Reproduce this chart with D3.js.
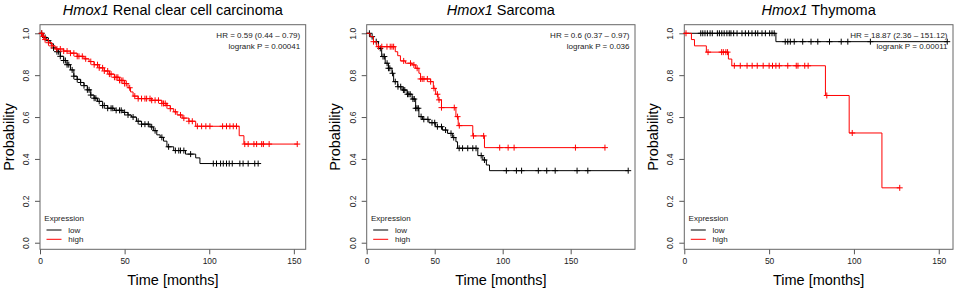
<!DOCTYPE html>
<html>
<head>
<meta charset="utf-8">
<script src="https://cdn.jsdelivr.net/npm/d3@7"></script>
<style>
  body { margin: 0; background: #fff; }
  svg text { font-family: "Liberation Sans", Arial, sans-serif; }
</style>
</head>
<body>
<div id="chart"></div>
<script>
// ---- data ----
// Renal clear cell carcinoma
var rccLowT  = [0, 2, 4, 6, 8, 10, 12, 14, 16, 18, 20, 22, 24, 26, 28, 30, 32, 34, 37, 40, 44, 49, 52, 54, 57, 60, 65, 67, 69, 71, 73, 75, 79, 86, 92, 94.5];
var rccLowS  = [1, 0.98, 0.965, 0.95, 0.93, 0.912, 0.89, 0.87, 0.85, 0.825, 0.795, 0.78, 0.765, 0.75, 0.73, 0.705, 0.69, 0.675, 0.655, 0.642, 0.632, 0.622, 0.61, 0.6, 0.58, 0.566, 0.553, 0.535, 0.515, 0.503, 0.485, 0.458, 0.44, 0.423, 0.405, 0.378];
var rccLowCens = [1, 3, 5, 8, 10, 11, 12, 14, 15, 16, 17, 19, 20, 22, 24, 26, 28, 29, 30, 32, 33, 35, 37, 38, 40, 42, 43, 45, 47, 48, 50, 52, 55, 58, 60, 62, 64, 66, 68, 72, 76, 80, 82, 83, 85, 89,
                  102.4, 104.3, 106.7, 108.3, 110.2, 111.8, 113.6, 118.1, 120, 123, 126.9, 128.9];
var rccHighT = [0, 1.5, 3, 5, 7, 9, 14, 18, 22, 26, 29, 32, 35, 38, 41, 44, 47, 50, 52, 53.5, 55, 58, 66, 72, 75, 77, 79, 81, 84, 88, 92, 117.7, 120.5];
var rccHighS = [1, 0.985, 0.97, 0.955, 0.94, 0.925, 0.915, 0.905, 0.89, 0.878, 0.865, 0.85, 0.835, 0.82, 0.805, 0.79, 0.775, 0.76, 0.74, 0.72, 0.70, 0.688, 0.68, 0.665, 0.655, 0.64, 0.625, 0.61, 0.595, 0.58, 0.556, 0.511, 0.471];
var rccHighCens = [1, 2, 3, 5, 7, 10, 12, 14, 16, 18, 20, 22, 23, 25, 27, 30, 32, 34, 35, 37, 38, 40, 41, 42, 44, 45, 46, 47, 48, 49, 50, 51, 53, 56, 58, 60, 62, 63, 65, 66, 68, 70, 72, 73, 74, 75, 77, 80, 83, 85, 88, 90, 93,
                   95.5, 98, 100.4, 107.9, 110.2, 112.2, 114.2, 116.1, 121, 123, 126.4, 128, 131, 132, 135.4, 152];

// Sarcoma
var sarcLowT = [0, 2.5, 5, 8.7, 11, 13.6, 16, 18.6, 19.8, 22.8, 26, 29.7, 33.4, 36, 38.4, 41, 45.8, 50.7, 55.7, 59.4, 63, 65.6, 66.8, 81.7, 85.4, 88, 90.3];
var sarcLowS = [1, 0.984, 0.96, 0.928, 0.889, 0.857, 0.833, 0.809, 0.769, 0.745, 0.729, 0.709, 0.686, 0.642, 0.602, 0.589, 0.573, 0.554, 0.538, 0.522, 0.502, 0.482, 0.451, 0.416, 0.395, 0.371, 0.344];
var sarcLowCens = [2, 4, 7, 10, 12, 13, 15, 16, 17, 19, 21, 23, 25, 27, 28, 30, 31, 32, 34, 35, 36, 37, 38, 40, 42, 45, 48, 50, 52, 55, 58, 62, 64,
                   68, 70.5, 74.3, 78, 80.4, 84.2, 86.6, 102.7, 110.1, 113.9, 126.2, 132.4, 138.6, 154.7, 162.6, 192.3];
var sarcHighT = [0, 2.5, 5, 7.4, 21, 22.8, 24.8, 28.5, 33.4, 36, 38.4, 39.6, 47, 49, 50.7, 52.5, 55, 65.6, 67.3, 78, 86.6];
var sarcHighS = [1, 0.984, 0.96, 0.936, 0.912, 0.893, 0.868, 0.857, 0.849, 0.833, 0.809, 0.782, 0.769, 0.737, 0.709, 0.682, 0.645, 0.602, 0.559, 0.51, 0.454];
var sarcHighCens = [5, 8.7, 11.1, 14.9, 17.3, 18.6, 19.8, 27.2, 32.2, 34.7, 37.1, 39.6, 40.8, 42.1, 44.6, 47, 49.5, 52, 53.2, 55, 64.4, 66.8, 68.1, 78.5, 86, 97.8, 104, 108.4, 153.5, 175.2];

// Thymoma
var thymLowT = [0, 54];
var thymLowS = [1, 0.96];
var thymLowCens = [9.7, 10.9, 12.2, 13.6, 15.2, 16.5, 19.5, 20.7, 22.1, 23.5, 25.1, 26.5, 27.5, 29.1, 31.1, 34, 36, 37.9, 39.9, 41.9, 43.3, 45.8, 47.8, 50.3, 51.7, 53,
                   59.5, 61, 62.5, 64.8, 69.8, 74.7, 78.7, 85.6, 92.5, 96.4, 109.7, 155];
var thymHighT = [0, 4.2, 6, 13, 26, 28, 83.2, 97.2, 116.5];
var thymHighS = [1, 0.97, 0.94, 0.91, 0.877, 0.845, 0.703, 0.524, 0.262];
var thymHighCens = [1, 14, 22, 23, 24.5, 25.5, 29.5, 33, 37, 40, 43, 46.5, 50, 52, 54, 56, 61, 66, 67, 71, 73, 84, 99, 127];

var xTicks = [0, 50, 100, 150];
var yTicks = [0, 0.2, 0.4, 0.6, 0.8, 1.0];
var legendLabels = ["low", "high"];
var colors = ["#000000", "#ff0000"];

var W = 957, H = 292;

var svg = d3.select("#chart").append("svg")
  .attr("width", W)
  .attr("height", H);

var panels = [
  {gene: "Hmox1", name: " Renal clear cell carcinoma", hr: "HR = 0.59 (0.44 \u2013 0.79)", p: "logrank P = 0.00041",
   left: 40, right: 305.7, xMax: 157,
   low: [rccLowT, rccLowS, rccLowCens], high: [rccHighT, rccHighS, rccHighCens]},
  {gene: "Hmox1", name: " Sarcoma", hr: "HR = 0.6 (0.37 \u2013 0.97)", p: "logrank P = 0.036",
   left: 366.7, right: 635, xMax: 197.3,
   low: [sarcLowT, sarcLowS, sarcLowCens], high: [sarcHighT, sarcHighS, sarcHighCens]},
  {gene: "Hmox1", name: " Thymoma", hr: "HR = 18.87 (2.36 \u2013 151.12)", p: "logrank P = 0.00011",
   left: 684.3, right: 953, xMax: 158.4,
   low: [thymLowT, thymLowS, thymLowCens], high: [thymHighT, thymHighS, thymHighCens]}
];

panels.forEach(function(p) { kmPlot(p); });

function kmPlot(p) {
  var top = 24.7, bottom = 249.3;

  var x = d3.scaleLinear().domain([0, p.xMax]).range([p.left, p.right]);
  var y = d3.scaleLinear().domain([-0.0315, 1.041]).range([bottom, top]);

  var g = svg.append("g");

  // title
  var title = g.append("text")
    .attr("x", (p.left + p.right) / 2)
    .attr("y", 15)
    .attr("text-anchor", "middle")
    .style("font-size", "14.5px")
    .style("fill", "#000");
  title.append("tspan").style("font-style", "italic").text(p.gene);
  title.append("tspan").text(p.name);

  // axes
  var xAxis = d3.axisBottom(x).tickValues(xTicks).tickSize(5).tickSizeOuter(0).tickPadding(4);
  var gx = g.append("g")
    .attr("transform", "translate(0," + bottom + ")")
    .call(xAxis);
  gx.select(".domain").remove();
  gx.selectAll("line").attr("stroke", "#555");
  gx.selectAll("text").style("font-size", "8.5px").style("fill", "#222");

  var yAxis = d3.axisLeft(y).tickValues(yTicks).tickSize(5).tickFormat(d3.format(".1f"));
  var gy = g.append("g")
    .attr("transform", "translate(" + p.left + ",0)")
    .call(yAxis);
  gy.select(".domain").remove();
  gy.selectAll("line").attr("stroke", "#555");
  gy.selectAll("text")
    .style("font-size", "8.5px")
    .style("fill", "#222")
    .attr("x", null).attr("dy", null)
    .attr("text-anchor", "middle")
    .attr("transform", "translate(-11,0) rotate(-90)");

  // frame
  g.append("rect")
    .attr("x", p.left).attr("y", top)
    .attr("width", p.right - p.left).attr("height", bottom - top)
    .attr("fill", "none")
    .attr("stroke", "#666")
    .attr("stroke-width", 1);

  // axis titles
  g.append("text")
    .attr("x", (p.left + p.right) / 2)
    .attr("y", 285)
    .attr("text-anchor", "middle")
    .style("font-size", "14.5px")
    .text("Time [months]");
  g.append("text")
    .attr("transform", "translate(" + (p.left - 26.5) + "," + (top + bottom) / 2 + ") rotate(-90)")
    .attr("text-anchor", "middle")
    .style("font-size", "14.5px")
    .text("Probability");

  // curves
  var line = d3.line()
    .x(function(d) { return x(d[0]); })
    .y(function(d) { return y(d[1]); })
    .curve(d3.curveStepAfter);

  [p.low, p.high].forEach(function(s, i) {
    var T = s[0], S = s[1], cens = s[2];
    var endT = Math.max(d3.max(T), d3.max(cens));
    var pts = T.map(function(t, j) { return [t, S[j]]; });
    pts.push([endT, S[S.length - 1]]);
    var surv = function(t) { return S[Math.max(0, d3.bisectRight(T, t) - 1)]; };

    g.append("path")
      .datum(pts)
      .attr("fill", "none")
      .attr("stroke", colors[i])
      .attr("stroke-width", 1)
      .attr("d", line);

    g.selectAll(".cens" + i).data(cens)
      .enter().append("path")
      .attr("class", "cens" + i)
      .attr("fill", "none")
      .attr("stroke", colors[i])
      .attr("stroke-width", 1)
      .attr("d", function(t) {
        var cx = x(t), cy = y(surv(t));
        return "M" + (cx - 3) + "," + cy + "H" + (cx + 3) + "M" + cx + "," + (cy - 3) + "V" + (cy + 3);
      });
  });

  // HR / logrank
  g.append("text")
    .attr("x", p.right - 5.5).attr("y", 38)
    .attr("text-anchor", "end")
    .style("font-size", "8px")
    .style("fill", "#222")
    .text(p.hr);
  g.append("text")
    .attr("x", p.right - 5.5).attr("y", 48.5)
    .attr("text-anchor", "end")
    .style("font-size", "8px")
    .style("fill", "#222")
    .text(p.p);

  // legend
  g.append("text")
    .attr("x", p.left + 4.3).attr("y", 221)
    .style("font-size", "8px")
    .style("fill", "#222")
    .text("Expression");
  legendLabels.forEach(function(lab, i) {
    var ly = 230 + i * 9.3;
    g.append("line")
      .attr("x1", p.left + 6.5).attr("x2", p.left + 21.5)
      .attr("y1", ly).attr("y2", ly)
      .attr("stroke", colors[i]).attr("stroke-width", 1);
    g.append("text")
      .attr("x", p.left + 28.3).attr("y", ly + 3)
      .style("font-size", "8px")
      .style("fill", "#222")
      .text(lab);
  });
}
</script>
</body>
</html>
